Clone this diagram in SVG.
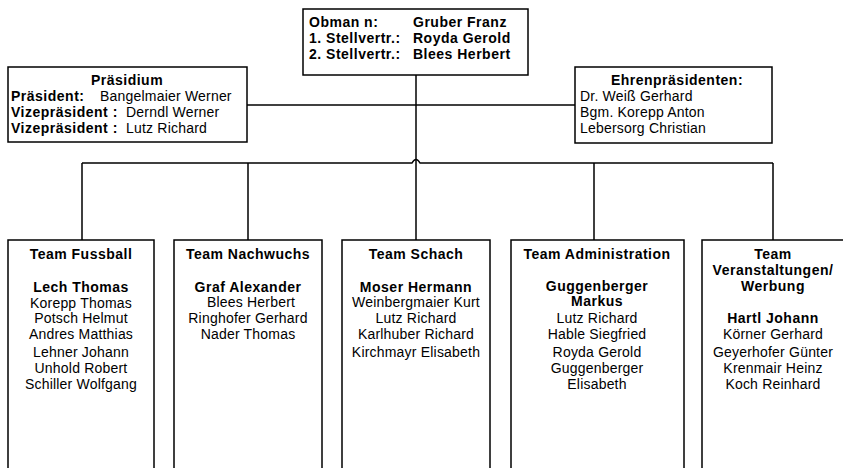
<svg xmlns="http://www.w3.org/2000/svg" width="843" height="468" viewBox="0 0 843 468">
<style>
.box{fill:#fff;stroke:#000;stroke-width:1.5}
.ln{fill:none;stroke:#000;stroke-width:1.5}
text{font-family:"Liberation Sans",Arial,sans-serif;font-size:14px;fill:#000;letter-spacing:0.2px}
.b{font-weight:bold;letter-spacing:0.5px}
.c{text-anchor:middle}
</style>
<rect width="843" height="468" fill="#fff"/>
<g id="connectors">
<path class="ln" d="M416 75 V240"/>
<path class="ln" d="M247 105 H575"/>
<path class="ln" d="M82 163 H412 Q416 156 420 163 H773"/>
<path class="ln" d="M82 163 V240 M248 163 V240 M594 163 V240 M773 163 V240"/>
</g>
<g id="obmann">
<rect class="box" x="303" y="9" width="225" height="66"/>
<text class="b" x="309" y="27">Obman n:</text>
<text class="b" x="309" y="43">1. Stellvertr.:</text>
<text class="b" x="309" y="59">2. Stellvertr.:</text>
<text class="b" x="413" y="27">Gruber Franz</text>
<text class="b" x="413" y="43">Royda Gerold</text>
<text class="b" x="413" y="59">Blees Herbert</text>
</g>
<g id="praesidium">
<rect class="box" x="8" y="67" width="239" height="75"/>
<text class="b c" x="127" y="85">Präsidium</text>
<text class="b" x="11" y="101">Präsident:</text>
<text x="100" y="101">Bangelmaier Werner</text>
<text class="b" x="11" y="117">Vizepräsident :</text>
<text x="126" y="117">Derndl Werner</text>
<text class="b" x="11" y="133">Vizepräsident :</text>
<text x="126" y="133">Lutz Richard</text>
</g>
<g id="ehrenpraesidenten">
<rect class="box" x="575" y="67" width="197" height="76"/>
<text class="b c" x="677" y="85">Ehrenpräsidenten:</text>
<text x="580" y="101">Dr. Weiß Gerhard</text>
<text x="580" y="117">Bgm. Korepp Anton</text>
<text x="580" y="133">Lebersorg Christian</text>
</g>
<g id="team-fussball">
<rect class="box" x="8" y="240" width="146" height="240"/>
<text class="b c" x="81" y="259">Team Fussball</text>
<text class="b c" x="81" y="292">Lech Thomas</text>
<text class="c" x="81" y="308">Korepp Thomas</text>
<text class="c" x="81" y="323">Potsch Helmut</text>
<text class="c" x="81" y="339">Andres Matthias</text>
<text class="c" x="81" y="357">Lehner Johann</text>
<text class="c" x="81" y="373">Unhold Robert</text>
<text class="c" x="81" y="389">Schiller Wolfgang</text>
</g>
<g id="team-nachwuchs">
<rect class="box" x="174" y="240" width="148" height="240"/>
<text class="b c" x="248" y="259">Team Nachwuchs</text>
<text class="b c" x="248" y="292">Graf Alexander</text>
<text class="c" x="251" y="307">Blees Herbert</text>
<text class="c" x="248" y="323">Ringhofer Gerhard</text>
<text class="c" x="248" y="339">Nader Thomas</text>
</g>
<g id="team-schach">
<rect class="box" x="342" y="240" width="148" height="240"/>
<text class="b c" x="416" y="259">Team Schach</text>
<text class="b c" x="416" y="292">Moser Hermann</text>
<text class="c" x="416" y="307">Weinbergmaier Kurt</text>
<text class="c" x="416" y="323">Lutz Richard</text>
<text class="c" x="416" y="339">Karlhuber Richard</text>
<text class="c" x="416" y="357">Kirchmayr Elisabeth</text>
</g>
<g id="team-administration">
<rect class="box" x="511" y="240" width="173" height="240"/>
<text class="b c" x="597" y="259">Team Administration</text>
<text class="b c" x="597" y="291">Guggenberger</text>
<text class="b c" x="597" y="306">Markus</text>
<text class="c" x="597" y="323">Lutz Richard</text>
<text class="c" x="597" y="339">Hable Siegfried</text>
<text class="c" x="597" y="357">Royda Gerold</text>
<text class="c" x="597" y="373">Guggenberger</text>
<text class="c" x="597" y="389">Elisabeth</text>
</g>
<g id="team-veranstaltungen">
<rect class="box" x="702" y="240" width="150" height="240"/>
<text class="b c" x="773" y="259">Team</text>
<text class="b c" x="773" y="275">Veranstaltungen/</text>
<text class="b c" x="773" y="291">Werbung</text>
<text class="b c" x="773" y="323">Hartl Johann</text>
<text class="c" x="773" y="339">Körner Gerhard</text>
<text class="c" x="773" y="357">Geyerhofer Günter</text>
<text class="c" x="773" y="373">Krenmair Heinz</text>
<text class="c" x="773" y="389">Koch Reinhard</text>
</g>
</svg>
